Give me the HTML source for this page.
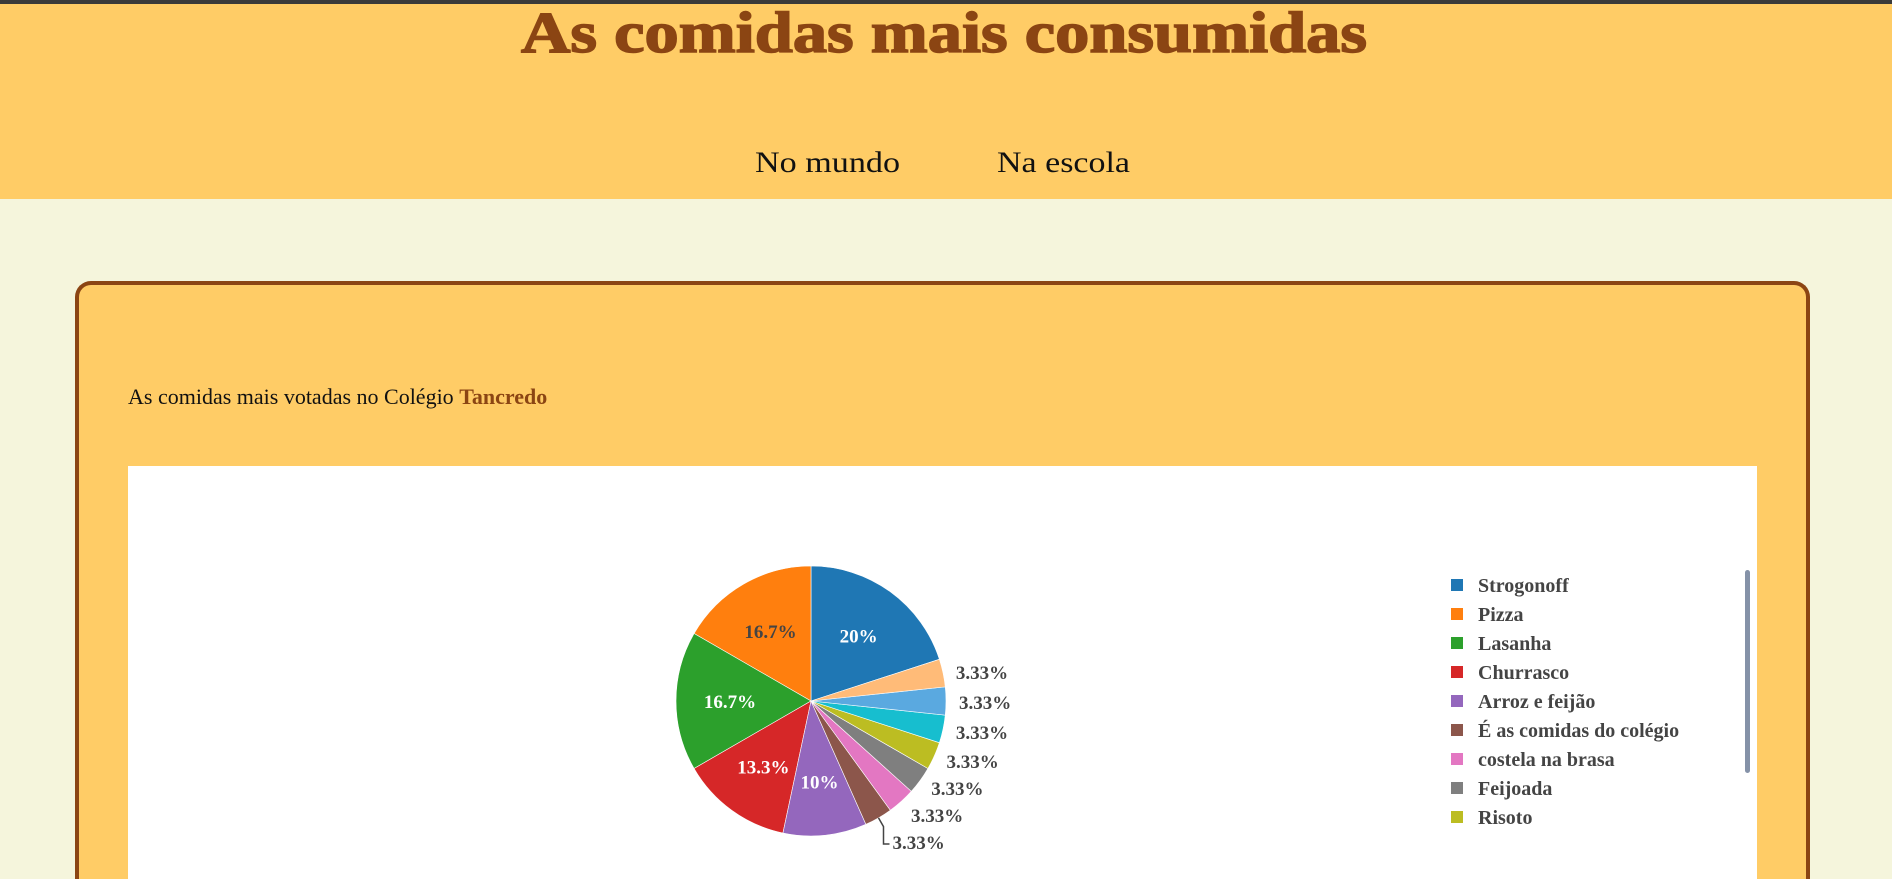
<!DOCTYPE html>
<html><head><meta charset="utf-8"><style>
html,body{margin:0;width:1892px;height:879px;overflow:hidden}
body{background:#f5f5dc;font-family:"Liberation Serif",serif}
#wrap{position:relative;width:1892px;height:879px;overflow:hidden}
.abs{position:absolute}
</style></head><body><div id="wrap">
<div class="abs" style="left:0;top:0;width:1892px;height:4px;background:#3a3a3a"></div>
<div class="abs" style="left:0;top:4px;width:1892px;height:195px;background:#ffcc66"></div>
<svg class="abs" style="left:0;top:0" width="1892" height="200">
<text x="521" y="52" textLength="846" lengthAdjust="spacingAndGlyphs" font-family="Liberation Serif" font-weight="bold" font-size="58" fill="#8b4513" stroke="#8b4513" stroke-width="1.5">As comidas mais consumidas</text>
<text x="755" y="172" textLength="145" lengthAdjust="spacingAndGlyphs" font-family="Liberation Serif" font-size="30" fill="#111">No mundo</text>
<text x="997" y="172" textLength="133" lengthAdjust="spacingAndGlyphs" font-family="Liberation Serif" font-size="30" fill="#111">Na escola</text>
</svg>
<div class="abs" style="left:75px;top:281px;width:1727px;height:594px;background:#ffcc66;border:4px solid #8b4513;border-bottom:0;border-radius:16px 16px 0 0"></div>
<div class="abs" style="left:128px;top:384px;font-size:22px;color:#111">As comidas mais votadas no Colégio <b style="color:#8b4513">Tancredo</b></div>
<div class="abs" style="left:128px;top:466px;width:1629px;height:413px;background:#fff"></div>
<svg id="chart" class="abs" style="left:0;top:0" width="1892" height="879"></svg>
<div class="abs" style="left:1745px;top:570px;width:5px;height:203px;background:#8592a8;border-radius:3px"></div>
</div>
<script>
const categories=["Strogonoff","Pizza","Lasanha","Churrasco","Arroz e feijão","É as comidas do colégio","costela na brasa","Feijoada","Risoto","Outro 1","Outro 2","Outro 3"];
const votes=[6,5,5,4,3,1,1,1,1,1,1,1];
const colors=["#1f77b4","#ff7f0e","#2ca02c","#d62728","#9467bd","#8c564b","#e377c2","#7f7f7f","#bcbd22","#17becf","#5aa9e0","#ffbb78"];
const legendShown=9;
const NS="http://www.w3.org/2000/svg";
const svg=document.getElementById('chart');
const cx=811,cy=701,R=135;
function el(t,a){const e=document.createElementNS(NS,t);for(const k in a)e.setAttribute(k,a[k]);svg.appendChild(e);return e;}
const total=votes.reduce((a,b)=>a+b,0);
let slices=[];
let f0=votes[0]/total*2*Math.PI;
slices.push({i:0,a0:0,a1:f0});
let cur=0;
for(let i=1;i<votes.length;i++){const s=votes[i]/total*2*Math.PI;slices.push({i,a0:cur-s,a1:cur});cur-=s;}
function pt(a,r){return [cx+r*Math.sin(a),cy-r*Math.cos(a)];}
let outer=[];
slices.forEach(s=>{
  const [x0,y0]=pt(s.a0,R),[x1,y1]=pt(s.a1,R);
  const large=(s.a1-s.a0)>Math.PI?1:0;
  const p=el('path',{d:`M${cx},${cy}L${x0},${y0}A${R},${R} 0 ${large} 1 ${x1},${y1}Z`,fill:colors[s.i],stroke:'#fff','stroke-width':0.6});
  
  
  const pct=votes[s.i]/total*100;
  const txt=(Math.round(pct*(pct<10?100:10))/(pct<10?100:10))+'%';
  const mid=(s.a0+s.a1)/2;
  if(votes[s.i]/total>0.05){
    const [lx,ly]=pt(mid,R*0.6);
    const t=el('text',{x:lx,y:ly+7,'text-anchor':'middle','font-family':'Liberation Serif','font-weight':'bold','font-size':19,fill:(s.i==1?'#444':'#fff')});
    t.textContent=txt;
    
    
  } else outer.push({mid,txt});
});
outer.sort((a,b)=>((a.mid+2*Math.PI)%(2*Math.PI))-((b.mid+2*Math.PI)%(2*Math.PI)));
let lastY=-1e9;
outer.forEach(o=>{
  let [ex,ey]=pt(o.mid,R);
  let [lx,ly]=pt(o.mid,R+10);
  let y=Math.max(ly+8,lastY+27);lastY=y;
  if(y-ly>14){el('path',{d:`M${ex},${ey}L${lx},${ly}L${lx},${y-5}L${lx+6},${y-5}`,fill:'none',stroke:'#444','stroke-width':1.5});lx+=6;}
  const t=el('text',{x:lx+3,y:y,'font-family':'Liberation Serif','font-weight':'bold','font-size':19,fill:'#444'});
  t.textContent=o.txt;
  
  
});
for(let i=0;i<legendShown;i++){
  const y=585+i*29;
  const r=el('rect',{x:1451,y:y-6,width:12,height:12,fill:colors[i]});
  
  
  const t=el('text',{x:1478,y:y+7,'font-family':'Liberation Serif','font-weight':'bold','font-size':20,fill:'#444'});
  t.textContent=categories[i];
  
  
}
</script>
</body></html>
